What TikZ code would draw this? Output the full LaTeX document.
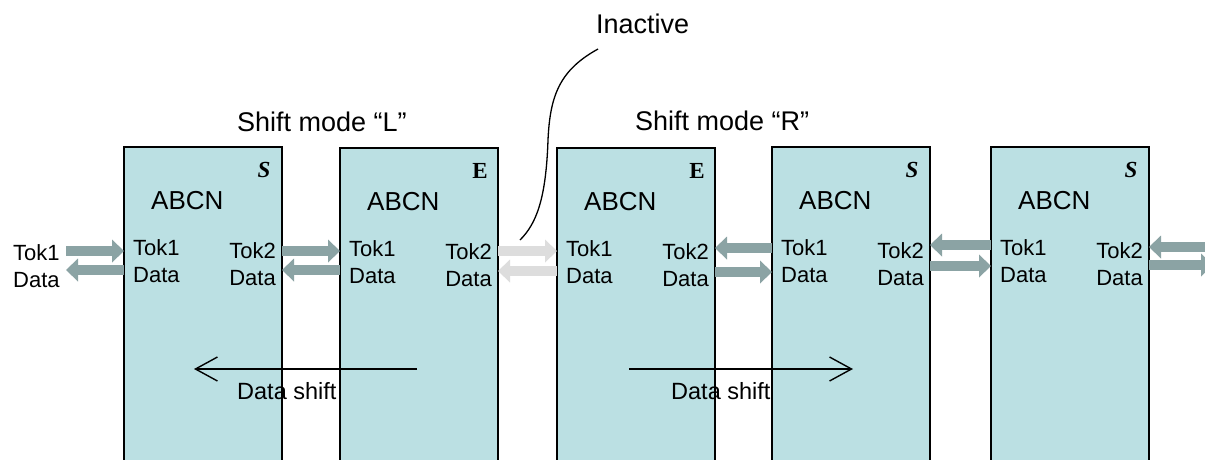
\documentclass[tikz,border=0pt]{standalone}
\usepackage{fontspec}
\setmainfont{Liberation Sans}
\newfontfamily\timesf{Liberation Serif}
\usetikzlibrary{arrows.meta,calc}
\definecolor{boxfill}{RGB}{187,224,227}
\definecolor{tokarrow}{RGB}{139,163,164}
\definecolor{inactarrow}{RGB}{221,221,221}
\begin{document}
\begin{tikzpicture}[x=1pt,y=-1pt,
  box/.style={draw=black, line width=1.3pt, fill=boxfill, anchor=north west,
    minimum width=158pt, minimum height=330pt, inner sep=0pt, outer sep=0pt},
  title/.style={font=\fontsize{27}{32}\selectfont, anchor=base west, inner sep=0pt},
  abcn/.style={font=\fontsize{26}{31}\selectfont, anchor=base west, inner sep=0pt},
  tok/.style={font=\fontsize{22}{26}\selectfont, inner sep=0pt},
  cornermark/.style={font=\timesf\bfseries\fontsize{23}{27}\selectfont, anchor=base, inner sep=0pt},
  blk/.style={line width=10pt, draw=#1, -{Triangle[length=12pt,width=23pt,line width=0pt]}},
  shiftarr/.style={line width=1.4pt, -{Straight Barb[length=22pt,width=24pt,line width=1.4pt]}},
  shiftlbl/.style={font=\fontsize{23.5}{28}\selectfont, anchor=base west, inner sep=0pt}
]
\clip (0,0) rectangle (1205,459);
\fill[white] (0,0) rectangle (1205,459);

% boxes
\node[box] (b1) at (124,147) {};
\node[box] (b2) at (340,148) {};
\node[box] (b3) at (557,148) {};
\node[box] (b4) at (772,147) {};
\node[box] (b5) at (991,147) {};

% box labels
\foreach \b/\m/\st in {b1/S/\itshape, b2/E/, b3/E/, b4/S/\itshape, b5/S/\itshape}{
  \node[abcn] (\b abcn) at ($(\b.north west)+(27,62)$) {ABCN};
  \node[cornermark] (\b cm) at ($(\b.north east)+(-18,30)$) {\st\m};
  \node[tok, anchor=base west] (\b tokA) at ($(\b.north west)+(9,108)$) {Tok1};
  \node[tok, anchor=base west] (\b dataA) at ($(\b.north west)+(9,135)$) {Data};
  \node[tok, anchor=base east] (\b tokB) at ($(\b.north east)+(-6,111)$) {Tok2};
  \node[tok, anchor=base east] (\b dataB) at ($(\b.north east)+(-6,138)$) {Data};
}

% outside labels
\node[tok, anchor=base west] (extTok) at (13,260) {Tok1};
\node[tok, anchor=base west] (extData) at (13,287) {Data};

% titles
\node[title] (modeL) at (237,131) {Shift mode “L”};
\node[title] (modeR) at (635,130) {Shift mode “R”};
\node[title] (inactive) at (596,33) {Inactive};

% token / data arrows
\coordinate (extA) at (66,251);
\coordinate (extB) at (66,270);
\draw[blk=tokarrow] (extA) -- (b1.west |- extA);
\draw[blk=tokarrow] (b1.west |- extB) -- (extB);

\draw[blk=tokarrow] (b1.east |- 0,251) -- (b2.west |- 0,251);
\draw[blk=tokarrow] (b2.west |- 0,270) -- (b1.east |- 0,270);

\draw[blk=inactarrow] (b2.east |- 0,251) -- (b3.west |- 0,251);
\draw[blk=inactarrow] (b3.west |- 0,271) -- (b2.east |- 0,271);

\draw[blk=tokarrow] (b4.west |- 0,248) -- (b3.east |- 0,248);
\draw[blk=tokarrow] (b3.east |- 0,272) -- (b4.west |- 0,272);

\draw[blk=tokarrow] (b5.west |- 0,245) -- (b4.east |- 0,245);
\draw[blk=tokarrow] (b4.east |- 0,266) -- (b5.west |- 0,266);

\coordinate (extC) at (1215,247);
\coordinate (extD) at (1213,265);
\draw[blk=tokarrow] (extC) -- (b5.east |- extC);
\draw[blk=tokarrow] (b5.east |- extD) -- (extD);

% data shift arrows
\coordinate (sl1) at (417,369);
\coordinate (sl2) at (194,369);
\coordinate (sr1) at (629,369);
\coordinate (sr2) at (853,369);
\draw[shiftarr] (sl1) -- (sl2);
\draw[shiftarr] (sr1) -- (sr2);
\node[shiftlbl] (dsL) at (237,399) {Data shift};
\node[shiftlbl] (dsR) at (671,399) {Data shift};

% inactive pointer
\coordinate (inA) at (598,49);
\coordinate (inB) at (520,240);
\draw[line width=1.3pt] (inA) .. controls (560,70) and (550,95) .. (548,140)
  .. controls (546,200) and (536,224) .. (inB);
\end{tikzpicture}
\end{document}
